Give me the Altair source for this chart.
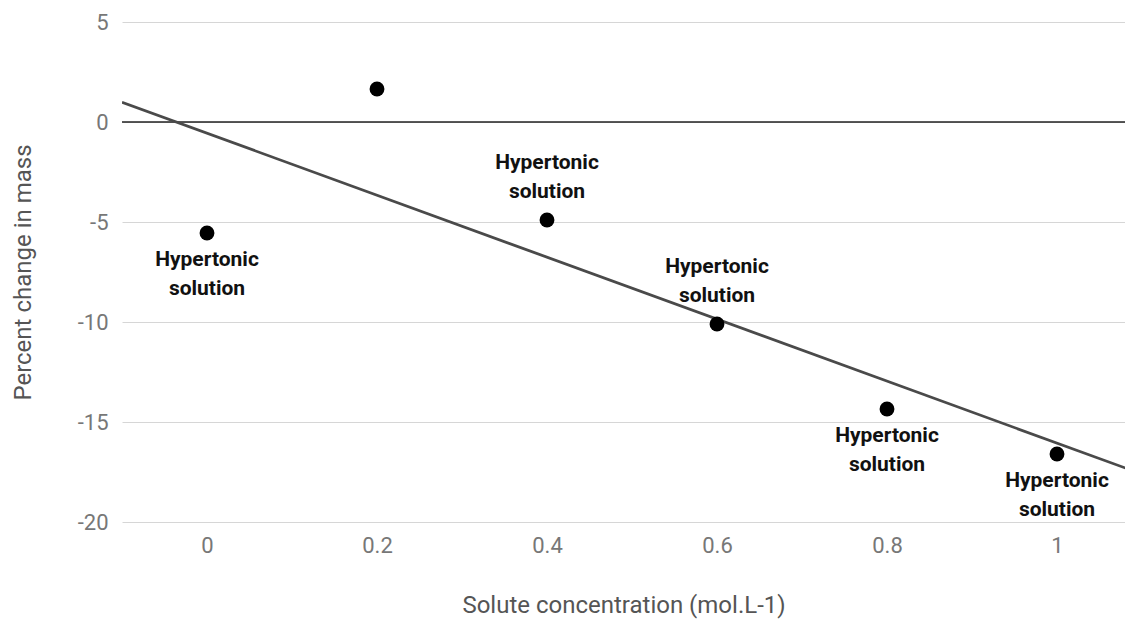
import altair as alt
import pandas as pd

conc = [0, 0.2, 0.4, 0.6, 0.8, 1.0]
change = [-5.55, 1.65, -4.9, -10.1, -14.35, -16.6]
labels = ["Hypertonic\nsolution", "", "Hypertonic\nsolution", "Hypertonic\nsolution",
          "Hypertonic\nsolution", "Hypertonic\nsolution"]
label_side = ["below", "none", "above", "above", "below", "below"]
x_ticks = [0, 0.2, 0.4, 0.6, 0.8, 1]
y_ticks = [-20, -15, -10, -5, 0, 5]

df = pd.DataFrame({"x": conc, "y": change, "label": labels, "side": label_side})

X_DOM = [-0.1, 1.08]
Y_DOM = [-20, 5]
FONT = "Roboto"
AX = 22
TT = 24

xenc = alt.X("x:Q", scale=alt.Scale(domain=X_DOM, nice=False, zero=False),
             axis=alt.Axis(values=x_ticks, grid=False, domain=False, ticks=False,
                           labelExpr="'' + datum.value", labelFontSize=AX, labelColor="#777",
                           labelFont=FONT, labelPadding=13, title="Solute concentration (mol.L-1)",
                           titleFont=FONT, titleFontSize=TT, titleFontWeight="normal",
                           titleColor="#555", titlePadding=37))
yenc = alt.Y("y:Q", scale=alt.Scale(domain=Y_DOM, nice=False, zero=False),
             axis=alt.Axis(values=y_ticks, grid=True, gridColor="#d6d6d6", domain=False, ticks=False,
                           labelExpr="'' + datum.value", labelFontSize=AX, labelColor="#777",
                           labelFont=FONT, labelPadding=14, title="Percent change in mass",
                           titleFont=FONT, titleFontSize=TT, titleFontWeight="normal",
                           titleColor="#555", titlePadding=42))

base = alt.Chart(df)

zero = alt.Chart(pd.DataFrame({"z": [0]})).mark_rule(color="#222", strokeWidth=1.3).encode(
    y=alt.Y("z:Q", scale=alt.Scale(domain=Y_DOM)))

trend = base.transform_regression("x", "y", extent=[-0.1, 1.1]).mark_line(
    color="#4a4a4a", strokeWidth=2.8, clip=True).encode(x=xenc, y=yenc)

points = base.mark_point(filled=True, size=220, color="#000", opacity=1).encode(x=xenc, y=yenc)

LBL = dict(font=FONT, fontSize=21, fontWeight="bold", color="#111", baseline="top",
           lineBreak="\n", lineHeight=28.5, align="center")

below = base.transform_filter("datum.side == 'below'").mark_text(dy=16, **LBL).encode(
    x=xenc, y=yenc, text="label:N")

above = base.transform_filter("datum.side == 'above'").mark_text(dy=-68, **LBL).encode(
    x=xenc, y=yenc, text="label:N")

chart = alt.layer(zero, trend, points, below, above).properties(
    width=1003, height=500,
    autosize=alt.AutoSizeParams(type="none"),
    padding={"left": 114, "top": 14, "right": 0, "bottom": 97},
).configure_view(stroke=None)

chart.save("out.html", embed_options={"renderer": "svg", "actions": False})
